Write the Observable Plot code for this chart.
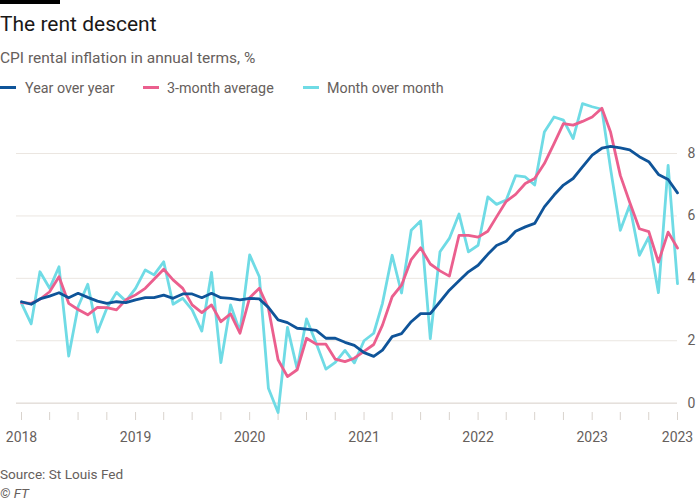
<!DOCTYPE html>
<html>
<head>
<meta charset="utf-8">
<script src="https://cdn.jsdelivr.net/npm/d3@7"></script>
<script src="https://cdn.jsdelivr.net/npm/@observablehq/plot@0.6"></script>
<style>
  html, body { margin: 0; padding: 0; background: #ffffff; }
  body { width: 700px; height: 500px; position: relative; overflow: hidden; font-family: Roboto, "Noto Sans", sans-serif; }
  .bar { position: absolute; left: 0; top: 0; width: 60px; height: 4px; background: #000; }
  .title { position: absolute; left: 0; top: 13px; font-size: 21px; line-height: 22px; color: #1a1817; white-space: nowrap; }
  .subtitle { position: absolute; left: 0; top: 50px; font-size: 15.5px; line-height: 16px; color: #66605c; white-space: nowrap; }
  .legend { position: absolute; left: 0; top: 80px; height: 16px; font-size: 14.3px; line-height: 16px; color: #66605c; white-space: nowrap; }
  .item { position: absolute; top: 0; }
  .sw { position: absolute; top: 6px; width: 16px; height: 3px; }
  .lab { position: absolute; top: 0; }
  #chart { position: absolute; left: 0; top: 96px; }
  .source { position: absolute; left: 0; top: 467px; font-size: 13.6px; line-height: 14px; color: #66605c; white-space: nowrap; }
  .ft { position: absolute; left: 0; top: 486px; font-size: 13.6px; line-height: 14px; color: #66605c; font-style: italic; }
</style>
</head>
<body>
<div class="bar"></div>
<div class="title">The rent descent</div>
<div class="subtitle">CPI rental inflation in annual terms, %</div>
<div class="legend" id="legend"></div>
<div id="chart"></div>
<div class="source">Source: St Louis Fed</div>
<div class="ft">© FT</div>
<script>
// Monthly series, Jan 2018 – Oct 2023 (%)
const yoy = [
  3.25, 3.17, 3.34, 3.43, 3.54, 3.38, 3.52, 3.39, 3.27, 3.20, 3.25, 3.22,
  3.31, 3.38, 3.38, 3.46, 3.36, 3.50, 3.50, 3.38, 3.52, 3.38, 3.36, 3.31,
  3.36, 3.34, 3.07, 2.67, 2.58, 2.40, 2.37, 2.33, 2.08, 2.08, 1.95, 1.85,
  1.62, 1.50, 1.70, 2.13, 2.23, 2.61, 2.87, 2.87, 3.25, 3.62, 3.92, 4.21,
  4.42, 4.77, 5.05, 5.19, 5.51, 5.65, 5.76, 6.29, 6.67, 6.99, 7.20, 7.57,
  7.95, 8.17, 8.23, 8.18, 8.12, 7.90, 7.74, 7.33, 7.17, 6.74
];
const avg3m = [
  3.22, 3.20, 3.33, 3.57, 4.05, 3.20, 3.00, 2.83, 3.07, 3.06, 2.99, 3.31,
  3.47, 3.68, 3.97, 4.29, 3.95, 3.68, 3.15, 2.90, 3.15, 2.61, 2.86, 2.24,
  3.38, 3.68, 3.04, 1.39, 0.85, 1.07, 2.08, 1.89, 1.89, 1.41, 1.33, 1.44,
  1.66, 1.88, 2.50, 3.41, 3.78, 4.60, 4.98, 4.46, 4.24, 4.07, 5.38, 5.38,
  5.32, 5.51, 5.97, 6.47, 6.69, 7.04, 7.20, 7.68, 8.32, 8.96, 8.91, 9.03,
  9.17, 9.45, 8.68, 7.30, 6.44, 5.59, 5.50, 4.52, 5.48, 4.97
];
const mom = [
  3.20, 2.54, 4.21, 3.68, 4.37, 1.51, 3.09, 3.81, 2.28, 3.04, 3.55, 3.27,
  3.68, 4.27, 4.11, 4.53, 3.17, 3.36, 2.99, 2.31, 4.19, 1.30, 3.15, 2.29,
  4.75, 4.05, 0.48, -0.30, 2.43, 1.10, 2.70, 1.92, 1.09, 1.31, 1.69, 1.29,
  2.00, 2.24, 3.20, 4.74, 3.53, 5.54, 5.84, 2.07, 4.85, 5.28, 6.06, 4.85,
  5.06, 6.61, 6.37, 6.51, 7.29, 7.25, 6.99, 8.69, 9.17, 9.07, 8.48, 9.60,
  9.50, 9.42, 7.50, 5.54, 6.34, 4.74, 5.32, 3.54, 7.62, 3.83
];
const seriesNames = ["Year over year", "3-month average", "Month over month"];
const seriesColors = ["#0f5499", "#eb5f8e", "#6fdbe5"];
const yTicks = [0, 2, 4, 6, 8];

const months = yoy.map((_, i) => new Date(Date.UTC(2018, i, 1)));
const quarterTicks = months.filter((_, i) => i % 3 === 0);
const labelTicks = months.filter((_, i) => i % 12 === 0 || i === months.length - 1);

const rows = (vals) => vals.map((v, i) => ({date: months[i], value: v}));

// legend
const legend = document.getElementById("legend");
const legendX = [0, 143, 303];
seriesNames.forEach((name, k) => {
  const it = document.createElement("div");
  it.className = "item";
  it.style.left = legendX[k] + "px";
  it.innerHTML = `<div class="sw" style="background:${seriesColors[k]}"></div><div class="lab" style="left:${k === 0 ? 25 : 24}px">${name}</div>`;
  legend.appendChild(it);
});

const chart = Plot.plot({
  width: 700,
  height: 350,
  marginLeft: 16,
  marginRight: 23,
  marginTop: 4,
  marginBottom: 34,
  style: {fontFamily: "Roboto, 'Noto Sans', sans-serif", fontSize: "14px", background: "transparent", overflow: "visible"},
  x: {type: "utc", domain: [new Date(Date.UTC(2017, 11, 16)), months[months.length - 1]], label: null},
  y: {domain: [-0.3, 9.7], label: null},
  marks: [
    Plot.ruleY(yTicks.filter(d => d !== 0), {stroke: "#ebe6e1", strokeWidth: 1}),
    Plot.ruleY([0], {stroke: "#d6cec7", strokeWidth: 1}),
    Plot.axisX(quarterTicks, {tickSize: 8, tickFormat: () => "", stroke: "#d9d3cd", label: null}),
    Plot.axisX(labelTicks, {tickSize: 0, tickPadding: 20, tickFormat: "%Y", fontSize: 14, color: "#66605c", label: null}),
    Plot.axisY(yTicks, {anchor: "right", tickSize: 0, tickPadding: 10, fontSize: 14, color: "#66605c", label: null}),
    Plot.line(rows(mom), {x: "date", y: "value", stroke: seriesColors[2], strokeWidth: 2.8}),
    Plot.line(rows(avg3m), {x: "date", y: "value", stroke: seriesColors[1], strokeWidth: 2.8}),
    Plot.line(rows(yoy), {x: "date", y: "value", stroke: seriesColors[0], strokeWidth: 2.8})
  ]
});
document.getElementById("chart").appendChild(chart);
</script>
</body>
</html>
